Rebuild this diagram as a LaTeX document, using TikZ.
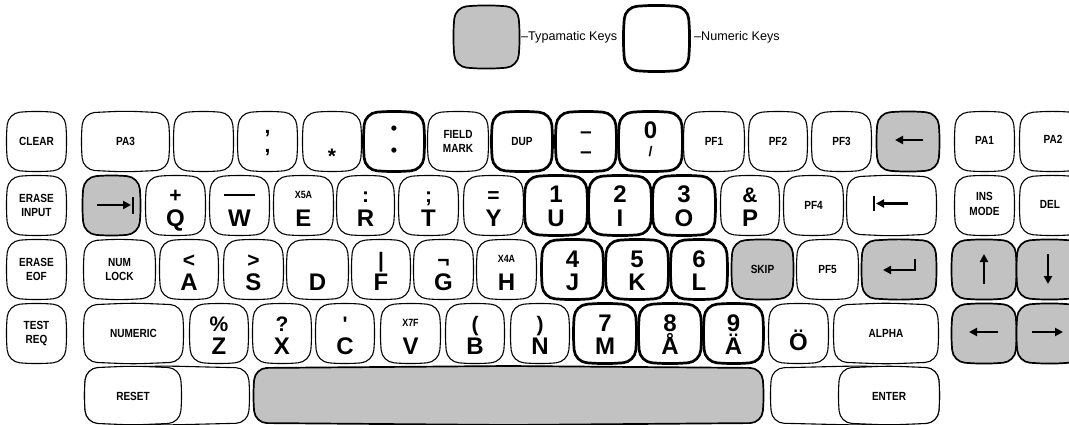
\documentclass[tikz,border=0pt]{standalone}
\usepackage{fontspec}
\setmainfont{Liberation Sans}
\newfontfamily\kf[FakeStretch=0.85]{Liberation Sans}
\newfontfamily\bigf{Liberation Sans}
\usetikzlibrary{arrows.meta}
\tikzset{
 keyln/.style={draw=black, line width=1.1pt, rounded corners=12pt, fill=white},
 num/.style={line width=2.7pt},
 typ/.style={fill=black!24, line width=1.7pt},
 lab/.style={font=\kf\bfseries\fontsize{11.8}{14.5}\selectfont, align=center, inner sep=0pt},
 big/.style={font=\bigf\bfseries\fontsize{24}{24}\selectfont, inner sep=0pt, anchor=base},
 sym/.style={font=\bigf\bfseries\fontsize{21}{21}\selectfont, inner sep=0pt, anchor=base},
 dotf/.style={font=\bigf\bfseries\fontsize{18}{18}\selectfont, inner sep=0pt},
 tinylab/.style={font=\kf\bfseries\fontsize{10.5}{10.5}\selectfont, inner sep=0pt, anchor=base},
 arr/.style={line width=2.3pt, -{Triangle[length=8pt,width=8pt]}},
 bar/.style={line width=2.3pt},
 leg/.style={font=\fontsize{12.6}{12.6}\selectfont, anchor=west, inner sep=0pt},
}
% key outline: [style]{x1}{y1}{x2}{y2}
\newcommand\kk[5][]{\draw[keyln,#1] ({(#2+#4)/2},{#3-2}) -- (#4,#3) -- ({#4+2},{(#3+#5)/2}) -- (#4,#5) -- ({(#2+#4)/2},{#5+2}) -- (#2,#5) -- ({#2-2},{(#3+#5)/2}) -- (#2,#3) -- cycle;}
% key in a row: [style]{x1}{x2}{top}
\newcommand\kr[4][]{\kk[#1]{#2}{#4}{#3}{#4+57}}
\newcommand\keylab[5]{\node[sym] (#1u) at (#2,{#3+26}) {#4}; \node[big] (#1) at (#2,{#3+49}) {#5};}
\newcommand\keynum[5]{\node[big] (#1u) at (#2,{#3+26}) {#4}; \node[big] (#1) at (#2,{#3+49}) {#5};}
\newcommand\keyx[5]{\node[tinylab] (#1u) at (#2,{#3+21}) {#4}; \node[big] (#1) at (#2,{#3+49}) {#5};}
\def\rowA{113}
\def\rowB{177}
\def\rowC{241}
\def\rowD{305}
\begin{document}
\begin{tikzpicture}[x=1pt,y=-1pt]
\useasboundingbox (0,0) rectangle (1069,425);
% legend
\kk[typ]{455}{7}{518}{67}
\node[leg] (legT) at (521,37) {–Typamatic Keys};
\kk[num]{625}{7}{688}{70}
\node[leg] (legN) at (694,37) {–Numeric Keys};
% ---------- row 1
\kr{8}{65}{\rowA} \node[lab] (clear) at (36.5,141.5) {CLEAR};
\kr{83}{168}{\rowA} \node[lab] (pa3) at (125.5,141.5) {PA3};
\kr{175}{232}{\rowA}
\kr{239}{296}{\rowA} \node[sym] (commaU) at (267.5,134) {,}; \node[sym] (comma) at (267.5,153) {,};
\kr{304}{360}{\rowA} \node[sym] (star) at (332,164) {*};
\kr[num]{365}{423}{\rowA} \node[dotf] (colonU) at (394,130) {•}; \node[dotf] (colon) at (394,152) {•};
\kr{429}{487}{\rowA} \node[lab] (fieldmark) at (458,141.5) {FIELD\\MARK};
\kr[num]{493}{551}{\rowA} \node[lab] (dup) at (522,141.5) {DUP};
\kr[num]{557}{615}{\rowA} \node[sym] (dashU) at (586,139) {–}; \node[sym] (dash) at (586,159) {–};
\kr[num]{620}{681}{\rowA} \node[big] (zeroU) at (650.5,138.5) {0}; \node[sym,font=\bigf\bfseries\fontsize{14}{14}\selectfont] (zero) at (650.5,157) {/};
\kr{685}{743}{\rowA} \node[lab] (pf1) at (714,141.5) {PF1};
\kr{750}{806}{\rowA} \node[lab] (pf2) at (778,141.5) {PF2};
\kr{813}{870}{\rowA} \node[lab] (pf3) at (841.5,141.5) {PF3};
\kr[typ]{878}{938}{\rowA} \draw[arr] (923,140) -- (895,140);
\kr{956}{1013}{\rowA} \node[lab] (pa1) at (984.5,140) {PA1};
\kr{1021}{1084}{\rowA} \node[lab] (pa2) at (1053,139) {PA2};
% ---------- row 2
\kr{8}{65}{\rowB} \node[lab] (eraseinput) at (36.5,205.5) {ERASE\\INPUT};
\kr[typ]{84}{139}{\rowB} \draw[arr] (97,205) -- (131,205); \draw[bar] (133,197) -- (133,214);
\kr{147}{204}{\rowB} \keylab{q}{175.5}{\rowB}{+}{Q}
\kr{211}{268}{\rowB} \node[inner sep=0pt] (wU) at (239.5,195) {\rule{31pt}{1.8pt}}; \node[big] (w) at (239.5,226) {W};
\kr{275}{332}{\rowB} \keyx{e}{303.5}{\rowB}{X5A}{E}
\kr{338}{393}{\rowB} \keylab{r}{365.5}{\rowB}{:}{R}
\kr{400}{457}{\rowB} \keylab{t}{428.5}{\rowB}{;}{T}
\kr{465}{522}{\rowB} \keylab{y}{493.5}{\rowB}{=}{Y}
\kr[num]{526}{586}{\rowB} \keynum{u}{556}{\rowB}{1}{U}
\kr[num]{590}{650}{\rowB} \keynum{i}{620}{\rowB}{2}{I}
\kr[num]{654}{714}{\rowB} \keynum{o}{684}{\rowB}{3}{O}
\kr{722}{778}{\rowB} \keylab{p}{750}{\rowB}{\&}{P}
\kr{785}{842}{\rowB} \node[lab] (pf4) at (813.5,205.5) {PF4};
\kr{848}{935}{\rowB} \draw[bar] (874,196) -- (874,211); \draw[arr] (908,203.5) -- (876,203.5);
\kr{956}{1013}{\rowB} \node[lab] (insmode) at (984.5,204) {INS\\MODE};
\kr{1021}{1084}{\rowB} \node[lab] (del) at (1050,204) {DEL};
% ---------- row 3
\kr{8}{65}{\rowC} \node[lab] (eraseeof) at (36.5,269.5) {ERASE\\EOF};
\kr{85}{154}{\rowC} \node[lab] (numlock) at (119.5,269.5) {NUM\\LOCK};
\kr{161}{217}{\rowC} \keylab{a}{189}{\rowC}{<}{A}
\kr{225}{282}{\rowC} \keylab{s}{253.5}{\rowC}{>}{S}
\kr{288}{347}{\rowC} \node[big] (d) at (317.5,290) {D};
\kr{353}{409}{\rowC} \keylab{f}{381}{\rowC}{|}{F}
\kr{415}{472}{\rowC} \keylab{g}{443.5}{\rowC}{¬}{G}
\kr{478}{535}{\rowC} \keyx{h}{506.5}{\rowC}{X4A}{H}
\kr[num]{543}{602}{\rowC} \keynum{j}{572.5}{\rowC}{4}{J}
\kr[num]{607}{667}{\rowC} \keynum{k}{637}{\rowC}{5}{K}
\kr[num]{672}{726}{\rowC} \keynum{l}{699}{\rowC}{6}{L}
\kr[typ]{733}{792}{\rowC} \node[lab] (skip) at (762.5,269.5) {SKIP};
\kr{798}{857}{\rowC} \node[lab] (pf5) at (827.5,269.5) {PF5};
\kr[typ]{863}{935}{\rowC} \draw[arr] (915,259) -- (915,270) -- (883,270);
\kr[typ]{953}{1015}{\rowC} \draw[arr] (984,284) -- (984,254);
\kr[typ]{1018}{1081}{\rowC} \draw[arr] (1048,254) -- (1048,284);
% ---------- row 4
\kr{8}{65}{\rowD} \node[lab] (testreq) at (36.5,333.5) {TEST\\REQ};
\kr{85}{182}{\rowD} \node[lab] (numeric) at (133.5,333.5) {NUMERIC};
\kr{191}{247}{\rowD} \keylab{z}{219}{\rowD}{\%}{Z}
\kr{254}{310}{\rowD} \keylab{x}{282}{\rowD}{?}{X}
\kr{317}{373}{\rowD} \keylab{c}{345}{\rowD}{'}{C}
\kr{382}{439}{\rowD} \keyx{v}{410.5}{\rowD}{X7F}{V}
\kr{447}{503}{\rowD} \keylab{b}{475}{\rowD}{(}{B}
\kr{512}{568}{\rowD} \keylab{n}{540}{\rowD}{)}{N}
\kr[num]{575}{635}{\rowD} \keynum{m}{605}{\rowD}{7}{M}
\kr[num]{640}{700}{\rowD} \keynum{aring}{670}{\rowD}{8}{Å}
\kr[num]{705}{762}{\rowD} \keynum{auml}{733.5}{\rowD}{9}{Ä}
\kr{770}{827}{\rowD} \node[big] (ouml) at (798.5,350) {Ö};
\kr{835}{937}{\rowD} \node[lab] (alpha) at (886,333.5) {ALPHA};
\kr[typ]{953}{1015}{\rowD} \draw[arr] (998,332) -- (969,332);
\kr[typ]{1018}{1081}{\rowD} \draw[arr] (1032,332) -- (1063,332);
% ---------- row 5
\kk{86}{368}{248}{423}
\kk{86}{368}{180}{423} \node[lab] (reset) at (133,396) {RESET};
\kk[typ]{255}{368}{762}{423}
\kk{772}{368}{938}{423}
\kk{840}{368}{938}{423} \node[lab] (enter) at (889,396) {ENTER};
\end{tikzpicture}
\end{document}
